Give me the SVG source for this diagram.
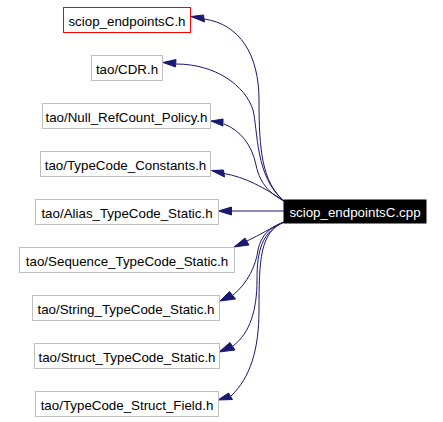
<svg xmlns="http://www.w3.org/2000/svg" width="443" height="422" viewBox="0 0 443 422">
<style>
.n rect{fill:#ffffff;stroke:#bfbfbf;stroke-width:1}
.n text{font-family:"Liberation Sans",Arial,sans-serif;font-size:13.33px;fill:#000000;text-anchor:middle}
#main rect{fill:#000000;stroke:#000000}
#main text{fill:#ffffff}
#n1 rect{stroke:#ff0000}
.e path{fill:none;stroke:#191970;stroke-width:1}
.e polygon{fill:#191970;stroke:#191970;stroke-width:1}
</style>
<rect width="443" height="422" fill="#ffffff"/>
<g id="edges" class="e">
<path d="M204,19 C240,24 259,55 259,100 C259,150 262,182 284,201"/>
<polygon points="191,16.5 203.5,15 204.5,22"/>
<path d="M176,64 C215,64 245,85 253,110 C258,130 255,177 284,201"/>
<polygon points="163,62.5 176,59.5 175.5,67"/>
<path d="M224,124 C240,130 252,145 256,165 C260,185 272,195 284,201"/>
<polygon points="211,121 223,119 223,126"/>
<path d="M224,173.5 C245,177 265,188 284,201"/>
<polygon points="211.5,170.5 223.5,170 224.5,177"/>
<path d="M284,211 L231,211"/>
<polygon points="218.5,211 231.5,207 231.5,215"/>
<path d="M247,241 C260,235 272,227 284,222"/>
<polygon points="234,247 245,238 249,245"/>
<path d="M233,295 C248,283 256,265 258,250 C261,235 270,227 284,222"/>
<polygon points="220,301 229.5,291.5 235.5,299"/>
<path d="M233,346 C250,333 257,310 257,280 C257,250 262,232 284,222"/>
<polygon points="219,352 230,342.5 235,350"/>
<path d="M231,396 C250,378 259,350 259,310 C259,260 260,232 284,222"/>
<polygon points="218,400 228.5,393 232.5,399.5"/>
</g>
<g id="main" class="n"><rect x="284" y="200" width="142" height="23"/><text x="355" y="217">sciop_endpointsC.cpp</text></g>
<g id="n1" class="n"><rect x="63.5" y="7.5" width="127" height="25"/><text x="127" y="26">sciop_endpointsC.h</text></g>
<g id="n2" class="n"><rect x="91.5" y="55.5" width="71" height="25"/><text x="127" y="74">tao/CDR.h</text></g>
<g id="n3" class="n"><rect x="42.5" y="103.5" width="168" height="25"/><text x="126.5" y="122">tao/Null_RefCount_Policy.h</text></g>
<g id="n4" class="n"><rect x="40.5" y="151.5" width="170" height="25"/><text x="125.5" y="170">tao/TypeCode_Constants.h</text></g>
<g id="n5" class="n"><rect x="35.5" y="199.5" width="183" height="25"/><text x="127" y="218">tao/Alias_TypeCode_Static.h</text></g>
<g id="n6" class="n"><rect x="19.5" y="247.5" width="215" height="25"/><text x="127" y="266">tao/Sequence_TypeCode_Static.h</text></g>
<g id="n7" class="n"><rect x="32.5" y="295.5" width="187" height="25"/><text x="126" y="314">tao/String_TypeCode_Static.h</text></g>
<g id="n8" class="n"><rect x="34.5" y="343.5" width="185" height="25"/><text x="127" y="362">tao/Struct_TypeCode_Static.h</text></g>
<g id="n9" class="n"><rect x="35.5" y="391.5" width="183" height="25"/><text x="127" y="410">tao/TypeCode_Struct_Field.h</text></g>
</svg>
